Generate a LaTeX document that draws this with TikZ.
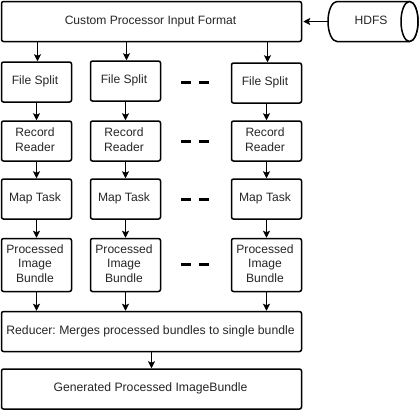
\documentclass[tikz,border=0pt]{standalone}
\usepackage{fontspec}
\setmainfont{Liberation Sans}
\frenchspacing
\usetikzlibrary{arrows.meta}
\newcommand{\lbl}[2][3pt]{\kern-#1\begin{tabular}{@{}c@{}}#2\end{tabular}}
\tikzset{
  box/.style={draw=black,line width=1.5pt,rounded corners=2pt,fill=white,inner sep=0pt,align=center,font=\fontsize{12.1}{14.8}\selectfont,text=black!85},
  small/.style={box,minimum width=70pt,minimum height=40pt},
  tall/.style={box,minimum width=70pt,minimum height=53pt},
  wide/.style={box,minimum width=300pt,minimum height=40pt},
  link/.style={draw=black,line width=1pt,-{Stealth[length=7pt,width=7pt,inset=1.5pt]}},
  gap/.style={line width=3pt,draw=black},
  cyl/.style={draw=black,line width=1.5pt,fill=white},
}
\begin{document}
\begin{tikzpicture}[x=1pt,y=-1pt]
\useasboundingbox (0,0) rectangle (420,413);
\node[wide] (top) at (151.5,21.5) {\raisebox{1pt}{\lbl[2pt]{Custom Processor Input Format}}};
% HDFS cylinder
\draw[cyl] (337,1.5) -- (409.5,1.5) arc[start angle=90,end angle=-90,x radius=8.5pt,y radius=20pt] -- (337,41.5)
  arc[start angle=270,end angle=90,x radius=9pt,y radius=20pt] -- cycle;
\draw[cyl] (409.5,21.5) ellipse[x radius=8.5pt,y radius=20pt];
\node[inner sep=0pt,minimum width=90pt,minimum height=40pt,font=\fontsize{12.1}{14.8}\selectfont,text=black!85] (hdfs) at (373,21.5) {\raisebox{1pt}{\lbl[4pt]{HDFS}}};
% column 1
\node[small] (fa) at (36.5,82) {\raisebox{1pt}{\lbl{File Split}}};
\node[small] (ra) at (36.5,141) {\raisebox{-0.5pt}{\lbl{Record\\Reader}}};
\node[small] (ma) at (36.5,199) {\lbl{Map Task}};
\node[tall] (pa) at (36.5,265) {\lbl{Processed\\Image\\Bundle}};
% column 2
\node[small] (fb) at (125.5,81) {\raisebox{1pt}{\lbl{File Split}}};
\node[small] (rb) at (125.5,141) {\raisebox{-0.5pt}{\lbl{Record\\Reader}}};
\node[small] (mb) at (125.5,199) {\lbl{Map Task}};
\node[tall] (pb) at (125.5,265) {\lbl{Processed\\Image\\Bundle}};
% column 3
\node[small] (fc) at (266.5,83) {\raisebox{1pt}{\lbl{File Split}}};
\node[small] (rc) at (266.5,141) {\raisebox{-0.5pt}{\lbl{Record\\Reader}}};
\node[small] (mc) at (266.5,199) {\lbl{Map Task}};
\node[tall] (pc) at (266.5,265) {\lbl{Processed\\Image\\Bundle}};
% bottom
\node[wide,font=\fontsize{12.2}{14.8}\selectfont] (red) at (151.5,331.5) {\lbl[2pt]{Reducer: Merges processed bundles to single bundle}};
\node[wide,font=\fontsize{12.2}{14.8}\selectfont] (gen) at (151.5,389) {\lbl[2pt]{Generated Processed ImageBundle}};
% connectors
\draw[link] (hdfs.west) -- ([xshift=1pt]top.east |- hdfs.west);
\foreach \c in {a,b,c}{
  \draw[link] ([xshift=1pt]f\c.north |- top.south) -- ([xshift=1pt]f\c.north);
  \draw[link] (f\c) -- (r\c);
  \draw[link] (r\c) -- (m\c);
  \draw[link] (m\c) -- (p\c);
  \draw[link] (p\c.south) -- (p\c.south |- red.north);
}
\draw[link] (red.south) -- (gen.north);
% gaps
\foreach \y in {82,141,199,264.5}{
  \draw[gap] (181,\y) -- (190.5,\y);
  \draw[gap] (199,\y) -- (208.5,\y);
}
\end{tikzpicture}
\end{document}
